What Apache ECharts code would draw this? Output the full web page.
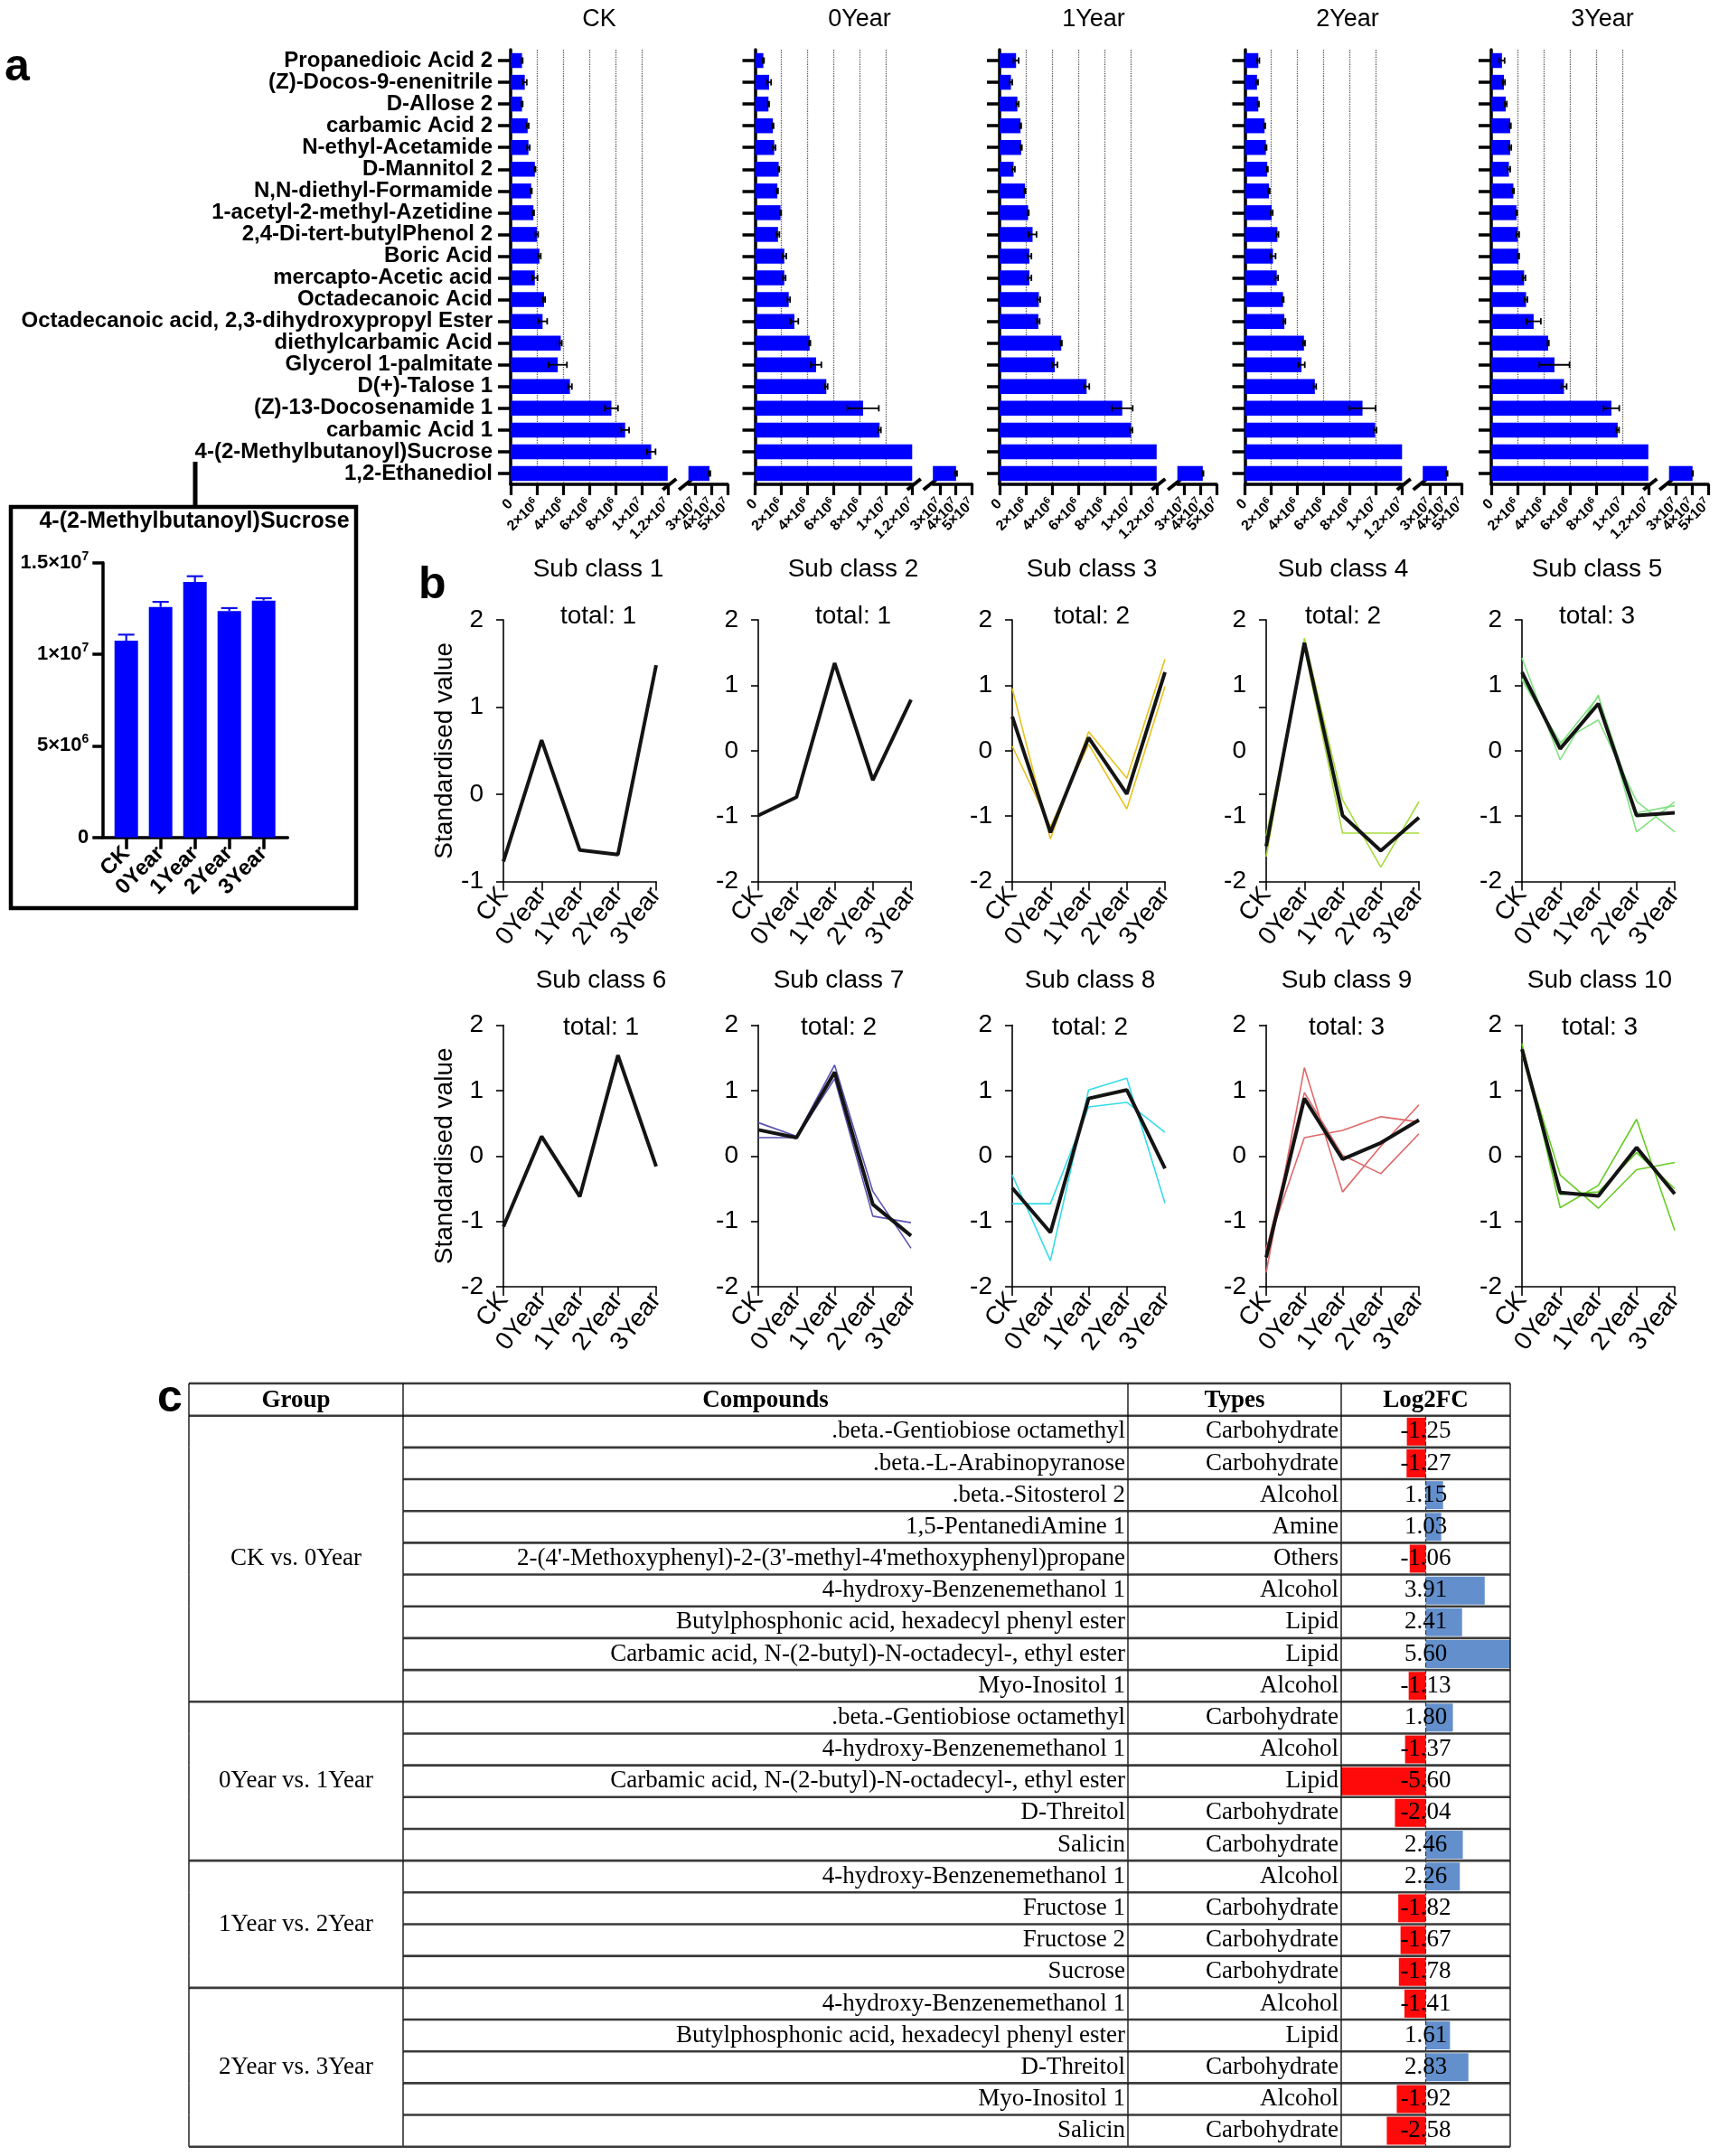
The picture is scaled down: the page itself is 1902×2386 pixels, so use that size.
<!DOCTYPE html>
<html>
<head>
<meta charset="utf-8">
<title>Metabolite figure</title>
<script src="https://cdn.jsdelivr.net/npm/echarts@6.0.0/dist/echarts.min.js"></script>
<style>
html, body { margin: 0; padding: 0; background: #fff; }
#main { width: 1902px; height: 2386px; }
</style>
</head>
<body>
<div id="main"></div>
<script>
// ---------- data : panel a (peak area, units of 1e6) ----------
var compounds = [
  'Propanedioic Acid 2', '(Z)-Docos-9-enenitrile', 'D-Allose 2', 'carbamic Acid 2',
  'N-ethyl-Acetamide', 'D-Mannitol 2', 'N,N-diethyl-Formamide', '1-acetyl-2-methyl-Azetidine',
  '2,4-Di-tert-butylPhenol 2', 'Boric Acid', 'mercapto-Acetic acid', 'Octadecanoic Acid',
  'Octadecanoic acid, 2,3-dihydroxypropyl Ester', 'diethylcarbamic Acid', 'Glycerol 1-palmitate',
  'D(+)-Talose 1', '(Z)-13-Docosenamide 1', 'carbamic Acid 1', '4-(2-Methylbutanoyl)Sucrose',
  '1,2-Ethanediol'
];
var groups = ['CK', '0Year', '1Year', '2Year', '3Year'];

var areaCK = [0.87, 1.08, 0.87, 1.3, 1.36, 1.85, 1.57, 1.74, 2.0, 2.2, 1.85, 2.55, 2.44, 3.83, 3.6, 4.53, 7.7, 8.75, 10.74, 38.8];
var areaY0 = [0.63, 1.07, 1.02, 1.36, 1.46, 1.8, 1.7, 1.94, 1.75, 2.23, 2.23, 2.57, 3.0, 4.17, 4.66, 5.44, 8.25, 9.51, 12.58, 40.1];
var areaY1 = [1.26, 0.87, 1.36, 1.6, 1.65, 1.07, 1.94, 2.18, 2.52, 2.28, 2.28, 3.0, 2.96, 4.71, 4.22, 6.65, 9.37, 10.05, 13.95, 41.5];
var areaY2 = [1.02, 0.92, 1.02, 1.5, 1.6, 1.7, 1.84, 2.04, 2.48, 2.14, 2.43, 2.91, 3.01, 4.51, 4.32, 5.34, 8.98, 9.95, 12.36, 40.7];
var areaY3 = [0.82, 0.97, 1.11, 1.45, 1.45, 1.35, 1.69, 1.93, 2.03, 2.08, 2.51, 2.66, 3.24, 4.35, 4.83, 5.56, 9.18, 9.66, 12.93, 40.3];

var semCK = [0.05, 0.15, 0.05, 0.08, 0.1, 0.05, 0.05, 0.05, 0.1, 0.1, 0.2, 0.08, 0.35, 0.08, 0.7, 0.15, 0.5, 0.3, 0.33, 0.5];
var semY0 = [0.05, 0.15, 0.05, 0.05, 0.1, 0.05, 0.05, 0.05, 0.1, 0.15, 0.1, 0.1, 0.3, 0.05, 0.4, 0.1, 1.2, 0.1, 0.28, 0.6];
var semY1 = [0.2, 0.1, 0.1, 0.05, 0.05, 0.1, 0.05, 0.05, 0.3, 0.15, 0.15, 0.1, 0.1, 0.05, 0.2, 0.2, 0.8, 0.1, 0.31, 0.4];
var semY2 = [0.08, 0.08, 0.05, 0.05, 0.05, 0.05, 0.05, 0.08, 0.08, 0.2, 0.1, 0.05, 0.08, 0.08, 0.25, 0.1, 1.0, 0.1, 0.16, 0.4];
var semY3 = [0.2, 0.08, 0.08, 0.05, 0.08, 0.1, 0.05, 0.05, 0.1, 0.05, 0.1, 0.1, 0.55, 0.05, 1.15, 0.2, 0.6, 0.1, 0.13, 0.3];

var leftTicks = [0, 2, 4, 6, 8, 10, 12];
var rightTicks = [30, 40, 50];
var insetTicks = [0, 5, 10, 15];

// ---------- data : panel b (standardised value) ----------
var subMeans = [
  [-0.77, 0.62, -0.64, -0.69, 1.48],
  [-0.99, -0.71, 1.34, -0.45, 0.78],
  [0.52, -1.25, 0.2, -0.66, 1.2],
  [-1.46, 1.65, -0.99, -1.53, -1.02],
  [1.2, 0.03, 0.72, -0.99, -0.95],
  [-1.08, 0.3, -0.62, 1.54, -0.16],
  [0.4, 0.28, 1.28, -0.74, -1.22],
  [-0.49, -1.17, 0.88, 1.01, -0.19],
  [-1.55, 0.88, -0.05, 0.2, 0.55],
  [1.63, -0.56, -0.61, 0.13, -0.58]
];
var subMembers = [
  [],
  [],
  [[0.95, -1.35, 0.29, -0.42, 1.4], [0.07, -1.16, 0.1, -0.89, 0.98]],
  [[-1.62, 1.72, -0.75, -1.78, -0.78], [-1.3, 1.58, -1.26, -1.26, -1.26]],
  [[1.42, -0.14, 0.85, -1.24, -0.78], [1.1, 0.13, 0.47, -0.77, -1.24], [1.08, 0.1, 0.83, -0.95, -0.84]],
  [],
  [[0.51, 0.3, 1.39, -0.54, -1.41], [0.28, 0.28, 1.18, -0.92, -1.02]],
  [[-0.29, -1.6, 1.01, 1.19, -0.72], [-0.73, -0.73, 0.75, 0.82, 0.36]],
  [[-1.78, 1.35, -0.55, 0.15, 0.78], [-1.45, 0.97, 0.01, -0.27, 0.34], [-1.42, 0.28, 0.39, 0.6, 0.52]],
  [[1.72, -0.79, -0.45, 0.56, -1.14], [1.6, -0.29, -0.8, -0.21, -0.1], [1.56, -0.59, -0.55, 0.05, -0.5]]
];
var subTotals = [1, 1, 2, 2, 3, 1, 2, 2, 3, 3];
var subColors = ['#000', '#000', '#e8c21e', '#a6dc3a', '#84e084', '#000', '#5a52b4', '#35dce8', '#e06868', '#66cc22'];
var subYMin = [-1, -2, -2, -2, -2, -2, -2, -2, -2, -2];
var sub4Ticks = [-2, -2 / 3, 2 / 3, 2];

// ---------- data : panel c table ----------
var tblGroups = ['CK vs. 0Year', '0Year vs. 1Year', '1Year vs. 2Year', '2Year vs. 3Year'];
var tblGroupSize = [9, 5, 4, 5];
var tblCompounds = [
  '.beta.-Gentiobiose octamethyl', '.beta.-L-Arabinopyranose', '.beta.-Sitosterol 2', '1,5-PentanediAmine 1',
  "2-(4'-Methoxyphenyl)-2-(3'-methyl-4'methoxyphenyl)propane", '4-hydroxy-Benzenemethanol 1',
  'Butylphosphonic acid, hexadecyl phenyl ester', 'Carbamic acid, N-(2-butyl)-N-octadecyl-, ethyl ester', 'Myo-Inositol 1',
  '.beta.-Gentiobiose octamethyl', '4-hydroxy-Benzenemethanol 1', 'Carbamic acid, N-(2-butyl)-N-octadecyl-, ethyl ester',
  'D-Threitol', 'Salicin',
  '4-hydroxy-Benzenemethanol 1', 'Fructose 1', 'Fructose 2', 'Sucrose',
  '4-hydroxy-Benzenemethanol 1', 'Butylphosphonic acid, hexadecyl phenyl ester', 'D-Threitol', 'Myo-Inositol 1', 'Salicin'
];
var tblTypes = [
  'Carbohydrate', 'Carbohydrate', 'Alcohol', 'Amine', 'Others', 'Alcohol', 'Lipid', 'Lipid', 'Alcohol',
  'Carbohydrate', 'Alcohol', 'Lipid', 'Carbohydrate', 'Carbohydrate',
  'Alcohol', 'Carbohydrate', 'Carbohydrate', 'Carbohydrate',
  'Alcohol', 'Lipid', 'Carbohydrate', 'Alcohol', 'Carbohydrate'
];
var tblFC = [
  -1.25, -1.27, 1.15, 1.03, -1.06, 3.91, 2.41, 5.60, -1.13,
  1.80, -1.37, -5.60, -2.04, 2.46,
  2.26, -1.82, -1.67, -1.78,
  -1.41, 1.61, 2.83, -1.92, -2.58
];

// ---------- layout ----------
var SANS = '"Liberation Sans", Arial, sans-serif';
var SERIF = '"Liberation Serif", "Times New Roman", serif';
var aLeft = [565, 835.5, 1106, 1377.5, 1650];
var aTitleX = [663, 951, 1210, 1491, 1773];
var aTop = 55, aH = 481, segW = 173.8, brkDx = 196.7, brkW = 43.3;
var leftMax = 12, rightMin = 25.7, rightMax = 50;
var bLeft = [557, 839, 1120, 1401, 1684];
var bTop = [686, 1134.5];
var bW = 169, bH = 289.6;
var subTitleDx = [105, 105, 88, 85, 83, 108, 89, 86, 89, 86];
var tableCols = [209, 446, 1248, 1484, 1671];
var tableTop = 1566.7, tableH = 809;

var panelVals = [areaCK, areaY0, areaY1, areaY2, areaY3];
var panelSem = [semCK, semY0, semY1, semY2, semY3];

var grids = [], xAxes = [], yAxes = [], series = [];

function addGrid(l, t, w, h) {
  grids.push({ left: l, top: t, width: w, height: h, containLabel: false, outerBoundsMode: 'none' });
  return grids.length - 1;
}

function sci(v) {
  if (v === 0) return '{m|0}';
  var raw = v * 1e6;
  var exp = Math.floor(Math.log10(raw) + 1e-9);
  var man = Math.round(raw / Math.pow(10, exp) * 100) / 100;
  return '{m|' + man + '×10}{e|' + exp + '}';
}
var richA = {
  m: { fontSize: 16, fontWeight: 'bold', fontFamily: SANS, color: '#000', lineHeight: 20 },
  e: { fontSize: 11, fontWeight: 'bold', fontFamily: SANS, color: '#000', lineHeight: 11, verticalAlign: 'top' }
};
var richI = {
  m: { fontSize: 22, fontWeight: 'bold', fontFamily: SANS, color: '#000', lineHeight: 28 },
  e: { fontSize: 14, fontWeight: 'bold', fontFamily: SANS, color: '#000', lineHeight: 14, verticalAlign: 'top' }
};
var thickLine = { show: true, onZero: false, lineStyle: { color: '#000', width: 3.5 } };
var thinLine = { show: true, onZero: false, lineStyle: { color: '#000', width: 1.6 } };

// horizontal error bars (panel a)
function hErr(params, api) {
  var v = api.value(0), e = api.value(1), i = api.value(2);
  var lo = api.coord([v - e, i]), hi = api.coord([v + e, i]);
  var st = { stroke: '#000', lineWidth: 1.8 };
  return { type: 'group', children: [
    { type: 'line', shape: { x1: lo[0], y1: lo[1], x2: hi[0], y2: hi[1] }, style: st },
    { type: 'line', shape: { x1: lo[0], y1: lo[1] - 3.5, x2: lo[0], y2: lo[1] + 3.5 }, style: st },
    { type: 'line', shape: { x1: hi[0], y1: hi[1] - 3.5, x2: hi[0], y2: hi[1] + 3.5 }, style: st }
  ] };
}
// upward error bars (inset)
function vErr(params, api) {
  var x = api.value(0), v = api.value(1), e = api.value(2);
  var base = api.coord([x, v]), top = api.coord([x, v + e]);
  var st = { stroke: '#1010ee', lineWidth: 2.2 };
  return { type: 'group', children: [
    { type: 'line', shape: { x1: base[0], y1: base[1], x2: top[0], y2: top[1] }, style: st },
    { type: 'line', shape: { x1: top[0] - 9, y1: top[1], x2: top[0] + 9, y2: top[1] }, style: st }
  ] };
}

// ---------- panel a ----------
var breakAxes = [];
panelVals.forEach(function (vals, p) {
  var sem = panelSem[p];
  var gL = addGrid(aLeft[p], aTop, segW, aH);
  var gR = addGrid(aLeft[p] + brkDx, aTop, brkW, aH);
  xAxes.push({
    gridIndex: gL, type: 'value', position: 'bottom', min: 0, max: leftMax,
    axisLine: thickLine,
    axisTick: { show: true, customValues: leftTicks, length: 12, lineStyle: { color: '#000', width: 3.2 } },
    axisLabel: { customValues: leftTicks, rotate: 45, margin: 19, hideOverlap: false, formatter: sci, rich: richA },
    splitLine: { show: true, showMinLine: false, showMaxLine: false, lineStyle: { color: '#555', type: 'dotted', width: 1.3 } }
  });
  var xL = xAxes.length - 1;
  xAxes.push({
    gridIndex: gR, type: 'value', position: 'bottom', min: rightMin, max: rightMax,
    axisLine: thickLine,
    axisTick: { show: true, customValues: rightTicks, length: 12, lineStyle: { color: '#000', width: 3.2 } },
    axisLabel: { customValues: [rightTicks[0], rightTicks[2]], rotate: 45, margin: 19, hideOverlap: false, showMinLabel: true, showMaxLabel: true, formatter: sci, rich: richA },
    splitLine: { show: false }
  });
  var xR = xAxes.length - 1;
  // middle label of the short segment sits on its own axis so it is not hidden as an overlap
  xAxes.push({
    gridIndex: gR, type: 'value', position: 'bottom', min: rightMin, max: rightMax,
    axisLine: { show: false, onZero: false }, axisTick: { show: false }, splitLine: { show: false },
    axisLabel: { customValues: [rightTicks[1]], rotate: 45, margin: 19, formatter: sci, rich: richA }
  });
  breakAxes.push([xL, xR]);
  yAxes.push({
    gridIndex: gL, type: 'category', data: compounds, inverse: true,
    axisLine: thickLine,
    axisTick: { show: true, alignWithLabel: true, length: 14, lineStyle: { color: '#000', width: 3.5 } },
    axisLabel: { show: p === 0, interval: 0, margin: 20, fontSize: 24, fontWeight: 'bold', fontFamily: SANS, color: '#000' }
  });
  var yL = yAxes.length - 1;
  yAxes.push({ gridIndex: gR, type: 'category', data: compounds, inverse: true, show: false });
  var yR = yAxes.length - 1;

  series.push({
    type: 'bar', xAxisIndex: xL, yAxisIndex: yL, data: vals, barWidth: 16.5, clip: true,
    itemStyle: { color: '#0000ff' }, silent: true
  });
  series.push({
    type: 'bar', xAxisIndex: xR, yAxisIndex: yR, barWidth: 16.5, clip: true,
    data: vals.map(function (v) { return v > rightMin ? v : '-'; }),
    itemStyle: { color: '#0000ff' }, silent: true
  });
  var errL = [], errR = [];
  vals.forEach(function (v, i) {
    if (v + sem[i] <= leftMax) errL.push([v, sem[i], i]);
    if (v > rightMin) errR.push([v, sem[i], i]);
  });
  series.push({ type: 'custom', xAxisIndex: xL, yAxisIndex: yL, renderItem: hErr, data: errL, encode: { x: 0, y: 2 }, z: 5, silent: true });
  series.push({ type: 'custom', xAxisIndex: xR, yAxisIndex: yR, renderItem: hErr, data: errR, encode: { x: 0, y: 2 }, z: 5, silent: true });
});

// ---------- inset : 4-(2-Methylbutanoyl)Sucrose ----------
var sucIdx = compounds.indexOf('4-(2-Methylbutanoyl)Sucrose');
var gI = addGrid(113.3, 622.7, 205, 304);
xAxes.push({
  gridIndex: gI, type: 'value', position: 'bottom', min: -0.695, max: 4.7,
  axisLine: thickLine,
  axisTick: { show: true, customValues: [0, 1, 2, 3, 4], length: 13, lineStyle: { color: '#000', width: 3.5 } },
  axisLabel: {
    customValues: [0, 1, 2, 3, 4], rotate: 45, margin: 14, hideOverlap: false,
    formatter: function (v) { return groups[v]; },
    fontSize: 24, fontWeight: 'bold', fontFamily: SANS, color: '#000'
  },
  splitLine: { show: false }
});
var xI = xAxes.length - 1;
yAxes.push({
  gridIndex: gI, type: 'value', min: 0, max: 15,
  axisLine: thickLine,
  axisTick: { show: true, customValues: insetTicks, length: 11, lineStyle: { color: '#000', width: 3.5 } },
  axisLabel: { customValues: insetTicks, margin: 15, formatter: sci, rich: richI },
  splitLine: { show: false }
});
var yI = yAxes.length - 1;
series.push({
  type: 'bar', xAxisIndex: xI, yAxisIndex: yI, barWidth: 26, silent: true,
  data: groups.map(function (g, k) { return [k, panelVals[k][sucIdx]]; }),
  itemStyle: { color: '#0000ff' }
});
series.push({
  type: 'custom', xAxisIndex: xI, yAxisIndex: yI, renderItem: vErr, z: 5, silent: true,
  data: groups.map(function (g, k) { return [k, panelVals[k][sucIdx], panelSem[k][sucIdx]]; }),
  encode: { x: 0, y: 1 }
});

// ---------- panel b ----------
subMeans.forEach(function (mean, k) {
  var row = k < 5 ? 0 : 1, col = k % 5;
  var g = addGrid(bLeft[col], bTop[row], bW, bH);
  xAxes.push({
    gridIndex: g, type: 'category', position: 'bottom', data: groups, boundaryGap: false,
    axisLine: thinLine,
    axisTick: { show: true, length: 10, lineStyle: { color: '#000', width: 1.6 } },
    axisLabel: { interval: 0, rotate: 52, margin: 10, fontSize: 28, fontFamily: SANS, color: '#000' }
  });
  var yCfg = {
    gridIndex: g, type: 'value', min: subYMin[k], max: 2, interval: 1,
    axisLine: thinLine,
    axisTick: { show: true, length: 8, lineStyle: { color: '#000', width: 1.6 } },
    axisLabel: { margin: 22, fontSize: 28, fontFamily: SANS, color: '#000' },
    splitLine: { show: false }
  };
  if (k === 3) {
    yCfg.axisTick.customValues = sub4Ticks;
    yCfg.axisLabel.customValues = [-2, -1, 0, 1, 2];
  }
  if (col === 0) {
    yCfg.name = 'Standardised value';
    yCfg.nameLocation = 'middle';
    yCfg.nameGap = 50;
    yCfg.nameTextStyle = { fontSize: 28, fontFamily: SANS, color: '#000' };
  }
  yAxes.push(yCfg);
  var xi = xAxes.length - 1, yi = yAxes.length - 1;
  subMembers[k].forEach(function (m) {
    series.push({
      type: 'line', xAxisIndex: xi, yAxisIndex: yi, data: m, symbol: 'none', silent: true, z: 2,
      lineStyle: { color: subColors[k], width: 1.6 }
    });
  });
  series.push({
    type: 'line', xAxisIndex: xi, yAxisIndex: yi, data: mean, symbol: 'none', silent: true, z: 3,
    lineStyle: { color: '#141414', width: 4 }
  });
});

// ---------- panel c table ----------
var groupStartRows = [], groupEndRows = [];
(function () {
  var r = 0;
  tblGroupSize.forEach(function (n) { groupStartRows.push(r); r += n; groupEndRows.push(r - 1); });
})();
var rowIdx = tblFC.map(function (v, i) { return i; });

var gF = addGrid(tableCols[3], tableTop, tableCols[4] - tableCols[3], tableH);
xAxes.push({ gridIndex: gF, type: 'value', min: -5.6, max: 5.6, show: false });
yAxes.push({ gridIndex: gF, type: 'category', data: rowIdx, inverse: true, show: false });
series.push({
  type: 'bar', xAxisIndex: xAxes.length - 1, yAxisIndex: yAxes.length - 1, barWidth: 31, silent: true,
  data: tblFC.map(function (v) { return { value: v, itemStyle: { color: v < 0 ? '#ff0a0a' : '#6390cd' } }; }),
  markLine: {
    symbol: 'none', silent: true, label: { show: false },
    lineStyle: { color: '#333', type: 'dashed', width: 1.2 },
    data: [{ xAxis: 0 }]
  }
});

function cellText(str, x, y, align) {
  return {
    type: 'text', x: x, y: y,
    style: { text: str, font: '27px ' + SERIF, fill: '#000', textAlign: align, textVerticalAlign: 'middle', align: align, verticalAlign: 'middle' }
  };
}
function renderRow(params, api) {
  var i = api.value(1);
  var mid = api.coord([0.5, i])[1];
  var h = api.size([0, 1])[1];
  var top = mid - h / 2, bot = mid + h / 2;
  var kids = [];
  tableCols.forEach(function (x) {
    kids.push({ type: 'line', shape: { x1: x, y1: top, x2: x, y2: bot }, style: { stroke: '#000', lineWidth: 1.3 } });
  });
  var isEnd = groupEndRows.indexOf(i) >= 0;
  kids.push({
    type: 'line', shape: { x1: isEnd ? tableCols[0] : tableCols[1], y1: bot, x2: tableCols[4], y2: bot },
    style: { stroke: '#3a3a3a', lineWidth: 2.6 }
  });
  kids.push(cellText(tblCompounds[i], tableCols[2] - 3, mid, 'right'));
  kids.push(cellText(tblTypes[i], tableCols[3] - 3, mid, 'right'));
  kids.push(cellText(tblFC[i].toFixed(2), (tableCols[3] + tableCols[4]) / 2, mid, 'center'));
  var g = groupStartRows.indexOf(i);
  if (g >= 0) {
    kids.push(cellText(tblGroups[g], (tableCols[0] + tableCols[1]) / 2, top + tblGroupSize[g] * h / 2, 'center'));
  }
  return { type: 'group', children: kids };
}
var gT = addGrid(tableCols[0], tableTop, tableCols[4] - tableCols[0], tableH);
xAxes.push({ gridIndex: gT, type: 'value', min: 0, max: 1, show: false });
yAxes.push({ gridIndex: gT, type: 'category', data: rowIdx, inverse: true, show: false });
series.push({
  type: 'custom', xAxisIndex: xAxes.length - 1, yAxisIndex: yAxes.length - 1, renderItem: renderRow, z: 10, silent: true,
  data: rowIdx.map(function (i) { return [0.5, i]; }), encode: { x: 0, y: 1 }
});

// ---------- chart ----------
var chart = echarts.init(document.getElementById('main'), null, { renderer: 'canvas' });
chart.setOption({
  backgroundColor: '#fff',
  animation: false,
  grid: grids,
  xAxis: xAxes,
  yAxis: yAxes,
  series: series
});

// ---------- text and decorations ----------
function gText(str, x, y, font, align) {
  return {
    type: 'text', x: x, y: y, silent: true,
    style: { text: str, font: font, fill: '#000', textAlign: align || 'center', textVerticalAlign: 'middle', align: align || 'center', verticalAlign: 'middle' }
  };
}
function gLine(x1, y1, x2, y2, w, c) {
  return { type: 'line', silent: true, shape: { x1: x1, y1: y1, x2: x2, y2: y2 }, style: { stroke: c || '#000', lineWidth: w } };
}
var gfx = [];
gfx.push(gText('a', 5, 75, 'bold 50px ' + SANS, 'left'));
gfx.push(gText('b', 463, 648, 'bold 50px ' + SANS, 'left'));
gfx.push(gText('c', 174, 1548, 'bold 50px ' + SANS, 'left'));

groups.forEach(function (g, p) { gfx.push(gText(g, aTitleX[p], 22, '27px ' + SANS)); });

// axis breaks
var axisY = aTop + aH;
breakAxes.forEach(function (pair) {
  var xe = chart.convertToPixel({ xAxisIndex: pair[0] }, leftMax) + 2;
  var xs = chart.convertToPixel({ xAxisIndex: pair[1] }, rightMin) - 3;
  [xe, xs].forEach(function (cx) {
    gfx.push(gLine(cx - 3, axisY - 2, cx + 3, axisY + 2, 8, '#fff'));
    gfx.push(gLine(cx - 7.5, axisY + 6, cx + 7.5, axisY - 6, 4));
  });
});

// inset frame
gfx.push(gLine(216, 511, 216, 561, 5));
gfx.push({ type: 'rect', silent: true, shape: { x: 12, y: 561, width: 382, height: 444 }, style: { fill: 'none', stroke: '#000', lineWidth: 4.5 } });
gfx.push(gText('4-(2-Methylbutanoyl)Sucrose', 215, 577, 'bold 25px ' + SANS));

// panel b titles
subMeans.forEach(function (m, k) {
  var row = k < 5 ? 0 : 1, col = k % 5;
  var cx = bLeft[col] + subTitleDx[k];
  gfx.push(gText('Sub class ' + (k + 1), cx, row === 0 ? 630 : 1085, '28px ' + SANS));
  gfx.push(gText('total: ' + subTotals[k], cx, row === 0 ? 682 : 1137, '28px ' + SANS));
});

// table header
var hTop = 1531;
gfx.push(gLine(tableCols[0], hTop, tableCols[4], hTop, 2.6, '#3a3a3a'));
gfx.push(gLine(tableCols[0], tableTop, tableCols[4], tableTop, 2.6, '#3a3a3a'));
tableCols.forEach(function (x) { gfx.push(gLine(x, hTop, x, tableTop, 1.3)); });
['Group', 'Compounds', 'Types', 'Log2FC'].forEach(function (h, j) {
  gfx.push(gText(h, (tableCols[j] + tableCols[j + 1]) / 2, (hTop + tableTop) / 2 + 1, 'bold 27px ' + SERIF));
});

chart.setOption({ graphic: { elements: gfx } });
</script>
</body>
</html>
